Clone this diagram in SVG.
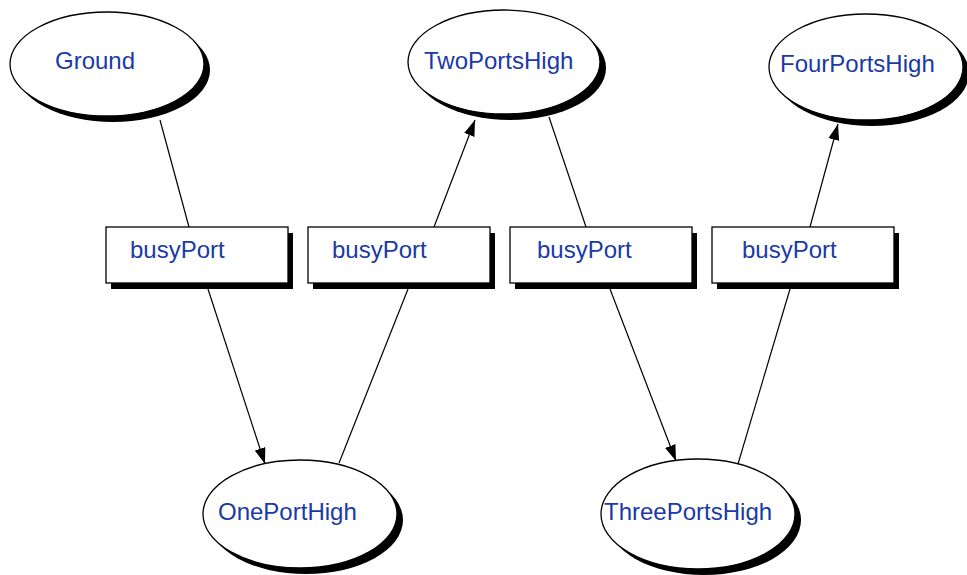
<svg xmlns="http://www.w3.org/2000/svg" width="967" height="575" viewBox="0 0 967 575">
<style>
.sh{fill:#000}
.el{fill:#fff;stroke:#000;stroke-width:1.3}
.bx{fill:#fff;stroke:#000;stroke-width:1.3}
.t{font-family:"Liberation Sans",Arial,sans-serif;font-size:24px;fill:#1a3aa6}
.c{stroke:#000;stroke-width:1.2;fill:none}
</style>
<defs>
<marker id="ah" viewBox="0 0 16 11" refX="16" refY="5.5" markerWidth="16" markerHeight="11" markerUnits="userSpaceOnUse" orient="auto">
<path d="M0,0 L16,5.5 L0,11 Z" fill="#000"/>
</marker>
</defs>
<g id="connectors">
<line class="c" x1="160" y1="120" x2="189" y2="227"/>
<line class="c" x1="208" y1="289" x2="265" y2="464" marker-end="url(#ah)"/>
<line class="c" x1="339" y1="463" x2="408" y2="289"/>
<line class="c" x1="434" y1="227" x2="475" y2="120" marker-end="url(#ah)"/>
<line class="c" x1="549" y1="117" x2="586" y2="227"/>
<line class="c" x1="610" y1="289" x2="676" y2="461" marker-end="url(#ah)"/>
<line class="c" x1="738" y1="464" x2="790" y2="289"/>
<line class="c" x1="810" y1="227" x2="838" y2="124" marker-end="url(#ah)"/>
</g>
<g id="Ground">
<ellipse class="sh" cx="113" cy="70" rx="97" ry="52"/>
<ellipse class="el" cx="107" cy="64" rx="97" ry="52"/>
<text class="t" x="55" y="69">Ground</text>
</g>
<g id="TwoPortsHigh">
<ellipse class="sh" cx="510" cy="68" rx="96" ry="52"/>
<ellipse class="el" cx="504" cy="62" rx="96" ry="52"/>
<text class="t" x="424" y="69">TwoPortsHigh</text>
</g>
<g id="FourPortsHigh">
<ellipse class="sh" cx="872" cy="73" rx="97" ry="53"/>
<ellipse class="el" cx="866" cy="67" rx="97" ry="53"/>
<text class="t" x="780" y="72">FourPortsHigh</text>
</g>
<g id="OnePortHigh">
<ellipse class="sh" cx="306" cy="520" rx="97" ry="54"/>
<ellipse class="el" cx="300" cy="514" rx="97" ry="54"/>
<text class="t" x="218" y="520">OnePortHigh</text>
</g>
<g id="ThreePortsHigh">
<ellipse class="sh" cx="704" cy="520" rx="97" ry="55"/>
<ellipse class="el" cx="698" cy="514" rx="97" ry="55"/>
<text class="t" x="604" y="520">ThreePortsHigh</text>
</g>
<g id="busyPort1">
<rect class="sh" x="111" y="233" width="182" height="56"/>
<rect class="bx" x="106" y="227" width="182" height="56"/>
<text class="t" x="130" y="258">busyPort</text>
</g>
<g id="busyPort2">
<rect class="sh" x="313" y="233" width="182" height="56"/>
<rect class="bx" x="308" y="227" width="182" height="56"/>
<text class="t" x="332" y="258">busyPort</text>
</g>
<g id="busyPort3">
<rect class="sh" x="515" y="233" width="182" height="56"/>
<rect class="bx" x="510" y="227" width="182" height="56"/>
<text class="t" x="537" y="258">busyPort</text>
</g>
<g id="busyPort4">
<rect class="sh" x="717" y="233" width="182" height="56"/>
<rect class="bx" x="712" y="227" width="182" height="56"/>
<text class="t" x="742" y="258">busyPort</text>
</g>
</svg>
